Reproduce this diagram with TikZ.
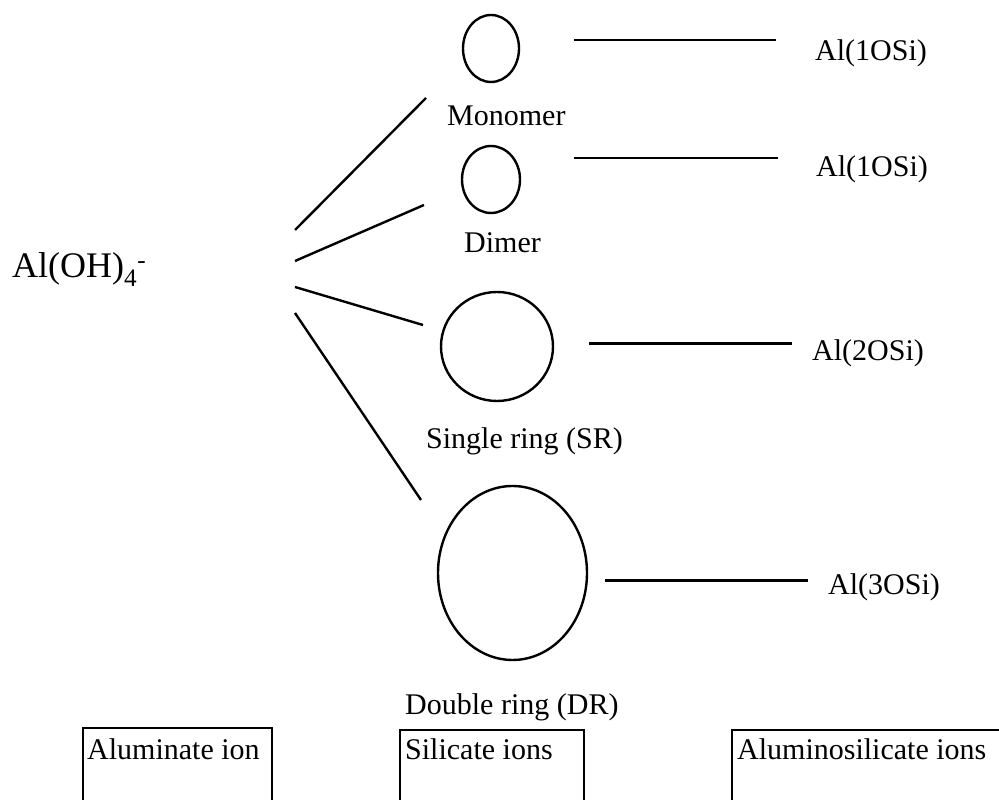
\documentclass[tikz,border=0pt]{standalone}
\usepackage{fontspec}
\setmainfont{Liberation Serif}
\usetikzlibrary{shapes.geometric}
\tikzset{
  ring/.style={draw,ellipse,line width=2.4pt,inner sep=0pt},
  lbl/.style={anchor=base west,inner sep=0pt,font=\fontsize{30}{36}\selectfont},
  ionbox/.style={line width=2pt}
}
\begin{document}
\begin{tikzpicture}[x=1pt,y=1pt,line width=2.4pt]
            \useasboundingbox (0,0) rectangle (999,800);
            \node[lbl,font=\fontsize{36}{42}\selectfont] (aloh) at (11,522) {Al(OH)\textsubscript{4}\textsuperscript{-}};
            \node[ring,minimum width=56,minimum height=67] (mono) at (491,751.5) {};
            \node[ring,minimum width=58,minimum height=67] (dimer) at (491,620.5) {};
            \node[ring,minimum width=112,minimum height=109] (sring) at (497,453.5) {};
            \node[ring,minimum width=149,minimum height=174] (dring) at (512.5,227) {};
            \node[lbl] (monolbl) at (446,674) {Monomer};
            \node[lbl] (dimerlbl) at (463,547) {Dimer};
            \node[lbl] (sringlbl) at (425,351) {Single ring (SR)};
            \node[lbl] (dringlbl) at (404,85) {Double ring (DR)};
            \node[lbl] (monoal) at (814,739) {Al(1OSi)};
            \node[lbl] (dimeral) at (815,623) {Al(1OSi)};
            \node[lbl] (sringal) at (811,439) {Al(2OSi)};
            \node[lbl] (dringal) at (827,205) {Al(3OSi)};
            \coordinate (fan1) at (295,570);
            \coordinate (fan2) at (295,539);
            \coordinate (fan3) at (295,513);
            \coordinate (fan4) at (295,487);
            \coordinate (monoin) at (426,702);
            \coordinate (dimerin) at (424,595);
            \coordinate (sringin) at (423,475);
            \coordinate (dringin) at (421,300);
            \coordinate (monoout) at (574,760);
            \coordinate (dimerout) at (574,642);
            \coordinate (sringout) at (589,456.5);
            \coordinate (dringout) at (605,219.5);
            \draw (fan1) -- (monoin);
            \draw (fan2) -- (dimerin);
            \draw (fan3) -- (sringin);
            \draw (fan4) -- (dringin);
            \draw (monoout) -- (monoout -| 776,0);
            \draw (dimerout) -- (dimerout -| 778,0);
            \draw (sringout) -- (sringout -| 792,0);
            \draw (dringout) -- (dringout -| 808,0);
            \draw[ionbox] (83,-5) -- (83,72) -- (272,72) -- (272,-5);
            \draw[ionbox] (400,-5) -- (400,70) -- (584,70) -- (584,-5);
            \draw[ionbox] (732,-5) -- (732,70) -- (1005,70);
            \node[lbl] (aluion) at (86,40) {Aluminate ion};
            \node[lbl] (silion) at (404,40) {Silicate ions};
            \node[lbl] (alsiion) at (736,40) {Aluminosilicate ions};
        \end{tikzpicture}
\end{document}
